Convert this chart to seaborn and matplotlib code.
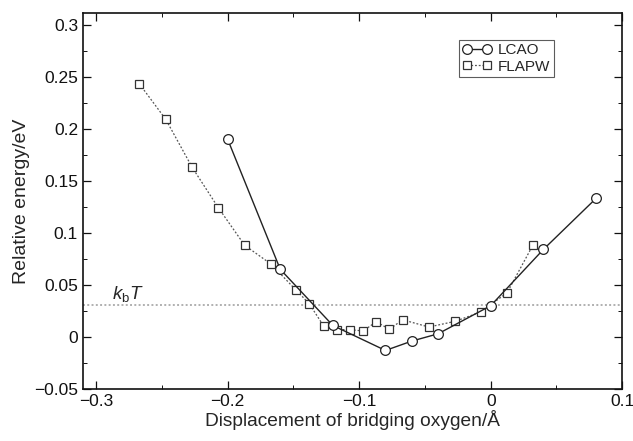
import matplotlib
matplotlib.use("Agg")
import matplotlib.pyplot as plt
import seaborn as sns
import pandas as pd
from matplotlib.ticker import MultipleLocator, FuncFormatter

# Data
lcao_x = [-0.200, -0.160, -0.120, -0.080, -0.060, -0.040, 0.000, 0.040, 0.080]
lcao_y = [0.190, 0.065, 0.011, -0.013, -0.004, 0.003, 0.030, 0.084, 0.133]

flapw_x = [-0.267, -0.247, -0.227, -0.207, -0.187, -0.167, -0.148, -0.138,
           -0.127, -0.117, -0.107, -0.097, -0.087, -0.077, -0.067, -0.047,
           -0.027, -0.0075, 0.0125, 0.032]
flapw_y = [0.243, 0.209, 0.163, 0.124, 0.088, 0.070, 0.045, 0.032,
           0.0105, 0.007, 0.007, 0.0057, 0.0146, 0.0073, 0.0165, 0.0095,
           0.015, 0.024, 0.0425, 0.088]

kbT = 0.0305
series_names = ["LCAO", "FLAPW"]

sns.set_theme(style="ticks")
plt.rcParams["font.family"] = ["Liberation Sans", "DejaVu Sans"]
plt.rcParams["mathtext.fontset"] = "custom"
plt.rcParams["mathtext.it"] = "Liberation Sans:italic"
plt.rcParams["mathtext.rm"] = "Liberation Sans"

fig = plt.figure(figsize=(6.33, 4.41), dpi=100)
ax = fig.add_axes([0.131, 0.118, 0.852, 0.852])

ax.axhline(kbT, color="#b0b0b0", lw=1.4, ls=(0, (1, 1.2)), zorder=1)

df_l = pd.DataFrame({"x": lcao_x, "y": lcao_y})
df_f = pd.DataFrame({"x": flapw_x, "y": flapw_y})

sns.lineplot(data=df_l, x="x", y="y", ax=ax, color="#222222", lw=1.0,
             marker="o", markersize=7, markerfacecolor="white",
             markeredgecolor="#222222", markeredgewidth=0.9,
             label=series_names[0], sort=False, zorder=3)
sns.lineplot(data=df_f, x="x", y="y", ax=ax, color="#555555", lw=0.9,
             ls=(0, (1.5, 1.5)), marker="s", markersize=5.5,
             markerfacecolor="white", markeredgecolor="#333333",
             markeredgewidth=0.9, label=series_names[1], sort=False, zorder=2)

ax.set_xlim(-0.31, 0.1)
ax.set_ylim(-0.05, 0.311)

ax.xaxis.set_major_locator(MultipleLocator(0.1))
ax.xaxis.set_minor_locator(MultipleLocator(0.05))
ax.yaxis.set_major_locator(MultipleLocator(0.05))
ax.yaxis.set_minor_locator(MultipleLocator(0.025))

fmt = FuncFormatter(lambda v, p: ("%g" % round(v, 4)).replace("-", "\u2212"))
ax.xaxis.set_major_formatter(fmt)
ax.yaxis.set_major_formatter(fmt)

ax.tick_params(which="both", direction="in", top=True, right=True,
               labelsize=12.5, colors="#111111")
ax.tick_params(which="major", length=6, width=0.9)
ax.tick_params(which="minor", length=3, width=0.7)
for s in ax.spines.values():
    s.set_linewidth(1.2)
    s.set_color("#111111")

ax.set_xlabel("Displacement of bridging oxygen/\u00c5", fontsize=13.8, labelpad=1)
ax.set_ylabel("Relative energy/eV", fontsize=14, labelpad=3)

ax.text(-0.288, 0.0312, r"$k_{\rm b}T$", fontsize=13.5, ha="left", va="bottom")

leg = ax.legend(loc="upper left", bbox_to_anchor=(0.697, 0.93), numpoints=2,
                fontsize=11, frameon=True, fancybox=False, handlelength=1.9,
                borderpad=0.25, labelspacing=0.15, handletextpad=0.4,
                borderaxespad=0)
leg.get_frame().set_edgecolor("#333333")
leg.get_frame().set_linewidth(0.8)

fig.savefig("out.png", dpi=100)
